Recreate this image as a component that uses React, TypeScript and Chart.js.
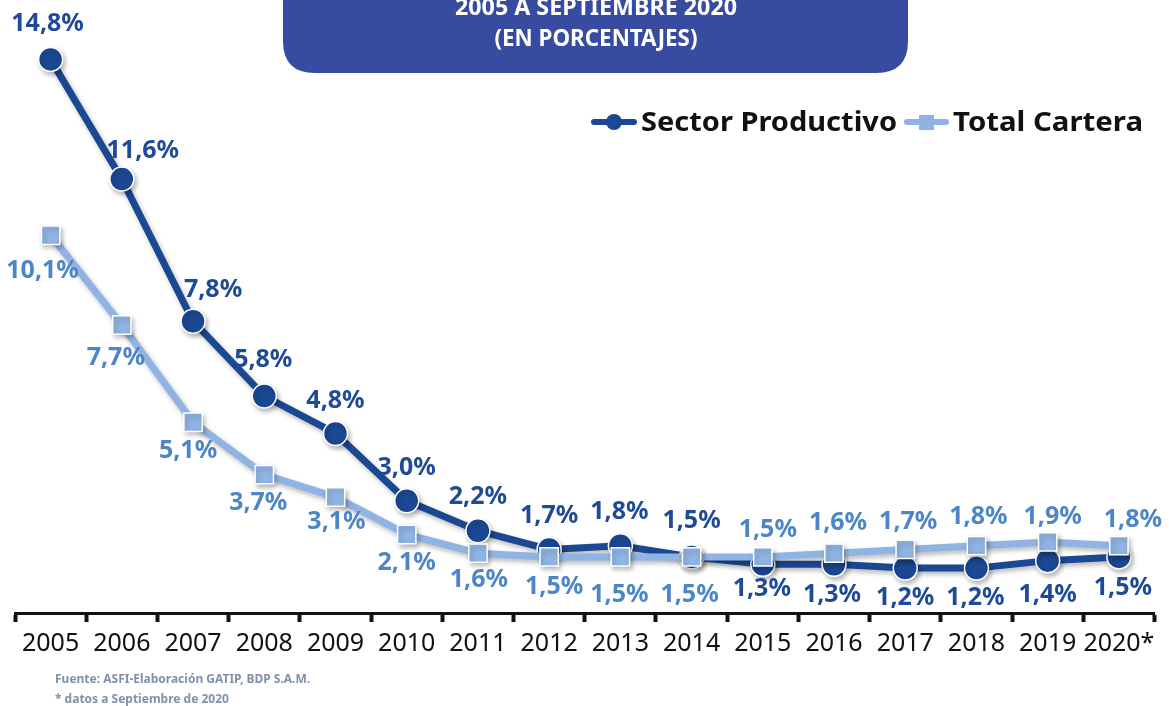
import React, { useEffect, useRef } from "react";
import { Chart, registerables } from "chart.js";

Chart.register(...registerables);

const categories = ["2005", "2006", "2007", "2008", "2009", "2010", "2011", "2012", "2013", "2014", "2015", "2016", "2017", "2018", "2019", "2020*"];
const sectorProductivo = [14.8, 11.6, 7.8, 5.8, 4.8, 3.0, 2.2, 1.7, 1.8, 1.5, 1.3, 1.3, 1.2, 1.2, 1.4, 1.5];
const totalCartera = [10.1, 7.7, 5.1, 3.7, 3.1, 2.1, 1.6, 1.5, 1.5, 1.5, 1.5, 1.6, 1.7, 1.8, 1.9, 1.8];

const titleLines = ["2005 A SEPTIEMBRE 2020", "(EN PORCENTAJES)"];
const sourceLines = ["Fuente: ASFI-Elaboración GATIP, BDP S.A.M.", "* datos a Septiembre de 2020"];
const seriesNames = ["Sector Productivo", "Total Cartera"];

// label offsets (style), relative to each point
const sectorLabelOffsets: [number, number][] = [
  [-3, -36], [21, -28], [20, -31], [-1, -36], [0, -33], [0, -33], [0, -34], [0, -34],
  [-1, -34], [0, -36], [-1, 25], [-2, 31], [0, 30], [-1, 30], [0, 34], [4, 31],
];
const totalLabelOffsets: [number, number][] = [
  [-8, 36], [-6, 33], [-5, 29], [-6, 28], [1, 25], [0, 28], [1, 27], [5, 30],
  [-1, 38], [-2, 38], [5, -27], [4, -30], [3, -28], [2, -29], [5, -25], [14, -26],
];

const DARK = "#1b4893";
const LIGHT = "#8fb4e3";
const DARK_LABEL = "#1f4b96";
const LIGHT_LABEL = "#4d86c8";
const FONT = "'Noto Sans', 'DejaVu Sans', sans-serif";

const fmt = (v: number) => v.toFixed(1).replace(".", ",") + "%";

const shadowPlugin = {
  id: "shadowPlugin",
  beforeDatasetsDraw(chart: any) {
    const ctx = chart.ctx;
    ctx.save();
    ctx.shadowColor = "rgba(0,0,0,0.28)";
    ctx.shadowBlur = 5;
    ctx.shadowOffsetX = 2;
    ctx.shadowOffsetY = 3;
  },
  afterDatasetsDraw(chart: any) {
    chart.ctx.restore();
  },
};

const decorPlugin = {
  id: "decorPlugin",
  afterDraw(chart: any) {
    const ctx = chart.ctx as CanvasRenderingContext2D;
    // title box
    ctx.save();
    ctx.fillStyle = "#374ca0";
    const bx = 283, bw = 625, by = -40, bh = 113, r = 32;
    ctx.beginPath();
    ctx.moveTo(bx, by);
    ctx.lineTo(bx + bw, by);
    ctx.lineTo(bx + bw, by + bh - r);
    ctx.quadraticCurveTo(bx + bw, by + bh, bx + bw - r, by + bh);
    ctx.lineTo(bx + r, by + bh);
    ctx.quadraticCurveTo(bx, by + bh, bx, by + bh - r);
    ctx.closePath();
    ctx.fill();
    ctx.fillStyle = "#ffffff";
    ctx.textAlign = "center";
    ctx.textBaseline = "alphabetic";
    const drawFit = (text: string, cx: number, y: number, w: number, size: number) => {
      ctx.font = `bold ${size}px ${FONT}`;
      const m = ctx.measureText(text).width;
      ctx.save();
      ctx.translate(cx, y);
      ctx.scale(w / m, 1);
      ctx.fillText(text, 0, 0);
      ctx.restore();
    };
    drawFit(titleLines[0], 596, 15, 282, 23);
    drawFit(titleLines[1], 596, 46, 203, 23);
    ctx.restore();

    // legend
    ctx.save();
    ctx.lineCap = "round";
    ctx.lineWidth = 6;
    ctx.strokeStyle = DARK;
    ctx.beginPath();
    ctx.moveTo(594, 122);
    ctx.lineTo(634, 122);
    ctx.stroke();
    ctx.fillStyle = DARK;
    ctx.beginPath();
    ctx.arc(614, 122, 8, 0, Math.PI * 2);
    ctx.fill();
    ctx.strokeStyle = LIGHT;
    ctx.beginPath();
    ctx.moveTo(907, 122);
    ctx.lineTo(946, 122);
    ctx.stroke();
    ctx.fillStyle = LIGHT;
    ctx.fillRect(919, 115, 15, 15);
    ctx.fillStyle = "#111111";
    ctx.font = `bold 27px ${FONT}`;
    ctx.textAlign = "left";
    ctx.textBaseline = "middle";
    const drawW = (t: string, x: number, w: number) => {
      const m = ctx.measureText(t).width;
      ctx.save();
      ctx.translate(x, 123);
      ctx.scale(w / m, 1);
      ctx.fillText(t, 0, 0);
      ctx.restore();
    };
    drawW(seriesNames[0], 641, 256);
    drawW(seriesNames[1], 953, 190);
    ctx.restore();

    // data labels
    ctx.save();
    ctx.font = `bold 25px ${FONT}`;
    ctx.textAlign = "center";
    ctx.textBaseline = "middle";
    const m0 = chart.getDatasetMeta(0);
    const m1 = chart.getDatasetMeta(1);
    m0.data.forEach((pt: any, i: number) => {
      const [dx, dy] = sectorLabelOffsets[i];
      ctx.fillStyle = DARK_LABEL;
      ctx.fillText(fmt(sectorProductivo[i]), pt.x + dx, pt.y + dy);
    });
    m1.data.forEach((pt: any, i: number) => {
      const [dx, dy] = totalLabelOffsets[i];
      ctx.fillStyle = LIGHT_LABEL;
      ctx.fillText(fmt(totalCartera[i]), pt.x + dx, pt.y + dy);
    });
    ctx.restore();

    // source
    ctx.save();
    ctx.fillStyle = "#7f91a6";
    ctx.font = `bold 12px ${FONT}`;
    ctx.textAlign = "left";
    ctx.textBaseline = "middle";
    ctx.fillText(sourceLines[0], 55, 680);
    ctx.fillText(sourceLines[1], 55, 700);
    ctx.restore();
  },
};

export default function App() {
  const ref = useRef<HTMLCanvasElement | null>(null);
  useEffect(() => {
    document.body.style.margin = "0";
    const chart = new Chart(ref.current as HTMLCanvasElement, {
      type: "line",
      data: {
        labels: categories,
        datasets: [
          {
            label: seriesNames[0],
            data: sectorProductivo,
            borderColor: DARK,
            backgroundColor: DARK,
            borderWidth: 7,
            pointStyle: "circle",
            pointRadius: 12,
            pointBorderColor: "#ffffff",
            pointBorderWidth: 1.5,
            pointBackgroundColor: DARK,
            tension: 0,
            order: 2,
            clip: false,
          } as any,
          {
            label: seriesNames[1],
            data: totalCartera,
            borderColor: LIGHT,
            backgroundColor: LIGHT,
            borderWidth: 7,
            pointStyle: "rect",
            pointRadius: 13,
            pointBorderColor: "#ffffff",
            pointBorderWidth: 1.5,
            pointBackgroundColor: LIGHT,
            tension: 0,
            order: 1,
            clip: false,
          } as any,
        ],
      },
      options: {
        responsive: false,
        animation: false,
        devicePixelRatio: 1,
        layout: { padding: { left: 15, right: 10, top: 10, bottom: 0 } },
        plugins: { legend: { display: false }, tooltip: { enabled: false }, title: { display: false } },
        scales: {
          x: {
            type: "category",
            offset: true,
            afterFit: (scale: any) => {
              scale.height = 93;
            },
            border: { display: true, color: "#111111", width: 3 },
            grid: {
              offset: true,
              drawOnChartArea: false,
              drawTicks: true,
              tickLength: 9,
              tickWidth: 4,
              tickColor: "#111111",
              color: "#111111",
            },
            ticks: {
              color: "#111111",
              font: { family: FONT, size: 25 },
              padding: 7,
              maxRotation: 0,
              autoSkip: false,
            },
          },
          y: { display: false, min: 0, max: 16 },
        },
      } as any,
      plugins: [shadowPlugin, decorPlugin],
    });
    return () => chart.destroy();
  }, []);
  return (
    <div style={{ position: "absolute", left: 0, top: 0, width: 1169, height: 706, background: "#fff" }}>
      <canvas ref={ref} width={1169} height={706} />
    </div>
  );
}
